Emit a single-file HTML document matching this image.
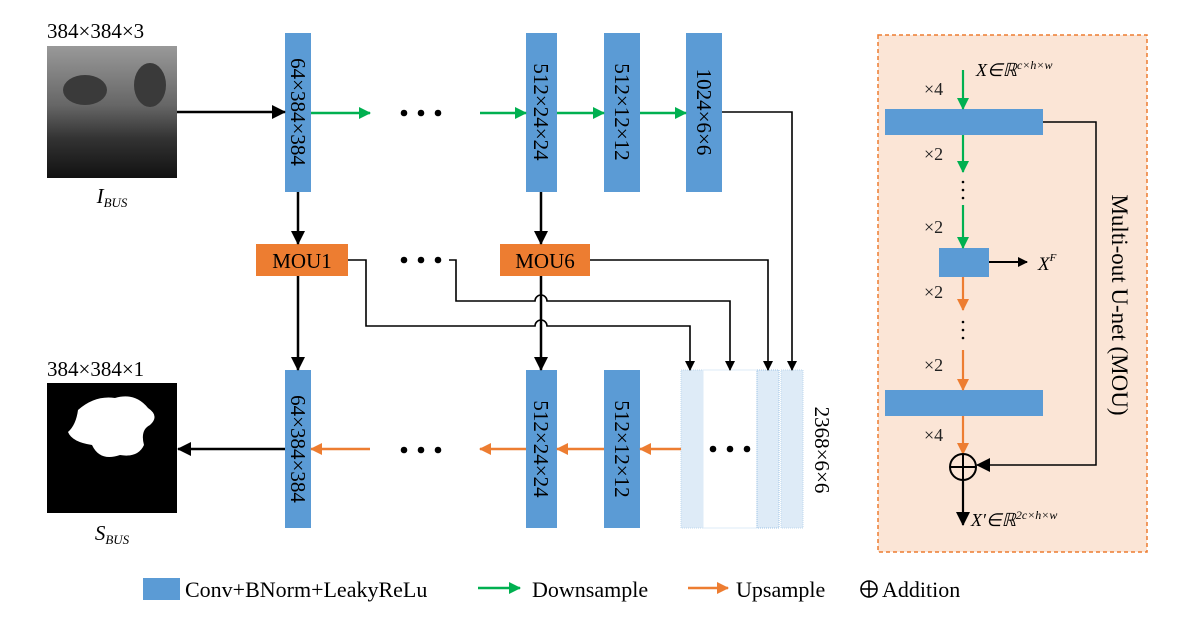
<!DOCTYPE html>
<html><head><meta charset="utf-8"><style>
html,body{margin:0;padding:0;background:#fff}
svg{display:block;font-family:"Liberation Serif",serif}
</style></head><body>
<svg width="1192" height="623" viewBox="0 0 1192 623" xmlns="http://www.w3.org/2000/svg">
<defs>
<marker id="ak" markerWidth="10" markerHeight="10" refX="9" refY="5" orient="auto" markerUnits="userSpaceOnUse"><path d="M0,0 L10,5 L0,10 z" fill="#000"/></marker>
<marker id="akb" markerWidth="14" markerHeight="14" refX="13" refY="7" orient="auto" markerUnits="userSpaceOnUse"><path d="M0,0 L14,7 L0,14 z" fill="#000"/></marker>
<marker id="ag" markerWidth="12" markerHeight="12" refX="11" refY="6" orient="auto" markerUnits="userSpaceOnUse"><path d="M0,0 L12,6 L0,12 z" fill="#00b050"/></marker>
<marker id="ao" markerWidth="12" markerHeight="12" refX="11" refY="6" orient="auto" markerUnits="userSpaceOnUse"><path d="M0,0 L12,6 L0,12 z" fill="#ed7d31"/></marker>
<linearGradient id="us" x1="0" y1="0" x2="0" y2="1"><stop offset="0" stop-color="#999"/><stop offset="0.45" stop-color="#666"/><stop offset="0.7" stop-color="#333"/><stop offset="1" stop-color="#111"/></linearGradient>
</defs>

<!-- input image -->
<text x="47" y="38" font-size="21">384×384×3</text>
<rect x="47" y="46" width="130" height="132" fill="url(#us)"/>
<ellipse cx="85" cy="90" rx="22" ry="15" fill="#3a3a3a"/><ellipse cx="150" cy="85" rx="16" ry="22" fill="#3a3a3a"/>
<text x="112" y="203" font-size="21" font-style="italic" text-anchor="middle">I<tspan font-size="13" dy="4">BUS</tspan></text>

<!-- output image -->
<text x="47" y="376" font-size="21">384×384×1</text>
<rect x="47" y="383" width="130" height="130" fill="#000"/>
<path d="M78,410 Q95,395 115,398 Q135,392 148,408 Q160,416 150,425 Q140,430 144,445 Q138,458 120,455 Q100,462 92,445 Q72,442 68,432 Q76,425 78,410 z" fill="#fff"/>
<text x="112" y="540" font-size="21" font-style="italic" text-anchor="middle">S<tspan font-size="13" dy="4">BUS</tspan></text>

<!-- top row blocks -->
<g fill="#5b9bd5">
<rect x="285" y="33" width="26" height="159"/>
<rect x="526" y="33" width="31" height="159"/>
<rect x="604" y="33" width="36" height="159"/>
<rect x="686" y="33" width="36" height="159"/>
<rect x="285" y="370" width="26" height="158"/>
<rect x="526" y="370" width="31" height="158"/>
<rect x="604" y="370" width="36" height="158"/>
</g>
<g font-size="21">
<text transform="translate(291,112) rotate(90)" text-anchor="middle">64×384×384</text>
<text transform="translate(534,112) rotate(90)" text-anchor="middle">512×24×24</text>
<text transform="translate(615,112) rotate(90)" text-anchor="middle">512×12×12</text>
<text transform="translate(697,112) rotate(90)" text-anchor="middle">1024×6×6</text>
<text transform="translate(291,449) rotate(90)" text-anchor="middle">64×384×384</text>
<text transform="translate(534,449) rotate(90)" text-anchor="middle">512×24×24</text>
<text transform="translate(615,449) rotate(90)" text-anchor="middle">512×12×12</text>
<text transform="translate(815,450) rotate(90)" text-anchor="middle">2368×6×6</text>
</g>

<!-- concat block -->
<rect x="681" y="370" width="22" height="158" fill="#deebf7" stroke="#bdd7ee" stroke-dasharray="1,1"/>
<rect x="703" y="370" width="54" height="158" fill="#fff" stroke="#deebf7"/>
<rect x="757" y="370" width="22" height="158" fill="#deebf7" stroke="#9dc3e6" stroke-dasharray="1,1"/>
<rect x="781" y="370" width="22" height="158" fill="#deebf7" stroke="#bdd7ee" stroke-dasharray="1,1"/>
<g fill="#000"><circle cx="713" cy="449" r="3.3"/><circle cx="730" cy="449" r="3.3"/><circle cx="747" cy="449" r="3.3"/></g>

<!-- MOU blocks -->
<rect x="256" y="244" width="92" height="32" fill="#ed7d31"/>
<rect x="500" y="244" width="90" height="32" fill="#ed7d31"/>
<text x="302" y="268" font-size="21" text-anchor="middle">MOU1</text>
<text x="545" y="268" font-size="21" text-anchor="middle">MOU6</text>

<!-- dots -->
<g fill="#000">
<circle cx="404" cy="113" r="3.3"/><circle cx="421" cy="113" r="3.3"/><circle cx="438" cy="113" r="3.3"/>
<circle cx="404" cy="260" r="3.3"/><circle cx="421" cy="260" r="3.3"/><circle cx="438" cy="260" r="3.3"/>
<circle cx="404" cy="450" r="3.3"/><circle cx="421" cy="450" r="3.3"/><circle cx="438" cy="450" r="3.3"/>
</g>

<!-- top arrows -->
<line x1="177" y1="112" x2="285" y2="112" stroke="#000" stroke-width="2.5" marker-end="url(#akb)"/>
<g stroke="#00b050" stroke-width="2.5">
<line x1="311" y1="113" x2="370" y2="113" marker-end="url(#ag)"/>
<line x1="480" y1="113" x2="526" y2="113" marker-end="url(#ag)"/>
<line x1="557" y1="113" x2="604" y2="113" marker-end="url(#ag)"/>
<line x1="640" y1="113" x2="686" y2="113" marker-end="url(#ag)"/>
</g>
<!-- bottom arrows -->
<g stroke="#ed7d31" stroke-width="2.5">
<line x1="681" y1="449" x2="640" y2="449" marker-end="url(#ao)"/>
<line x1="604" y1="449" x2="557" y2="449" marker-end="url(#ao)"/>
<line x1="526" y1="449" x2="480" y2="449" marker-end="url(#ao)"/>
<line x1="370" y1="449" x2="311" y2="449" marker-end="url(#ao)"/>
</g>
<line x1="285" y1="449" x2="178" y2="449" stroke="#000" stroke-width="2.5" marker-end="url(#akb)"/>

<!-- vertical thick -->
<g stroke="#000" stroke-width="2.5" fill="none">
<line x1="298" y1="192" x2="298" y2="244" marker-end="url(#akb)"/>
<line x1="541" y1="192" x2="541" y2="244" marker-end="url(#akb)"/>
<line x1="298" y1="276" x2="298" y2="370" marker-end="url(#akb)"/>
<line x1="541" y1="276" x2="541" y2="370" marker-end="url(#akb)"/>
</g>
<!-- thin connectors with hops -->
<g stroke="#000" stroke-width="1.6" fill="none">
<path d="M348,260 H366 V326 H535 a6,6 0 0 1 12,0 H690 V370" marker-end="url(#ak)"/>
<path d="M449,260 H456 V301 H535 a6,6 0 0 1 12,0 H730 V370" marker-end="url(#ak)"/>
<path d="M590,260 H768 V370" marker-end="url(#ak)"/>
<path d="M722,112 H792 V370" marker-end="url(#ak)"/>
</g>

<!-- right panel -->
<rect x="878" y="35" width="269" height="517" fill="#fbe5d6" stroke="#ed7d31" stroke-width="1.5" stroke-dasharray="4,3"/>
<g fill="#5b9bd5">
<rect x="885" y="109" width="158" height="26"/>
<rect x="939" y="248" width="50" height="29"/>
<rect x="885" y="390" width="158" height="26"/>
</g>
<g stroke-width="2.2">
<line x1="963" y1="70" x2="963" y2="109" stroke="#00b050" marker-end="url(#ag)"/>
<line x1="963" y1="135" x2="963" y2="172" stroke="#00b050" marker-end="url(#ag)"/>
<line x1="963" y1="205" x2="963" y2="248" stroke="#00b050" marker-end="url(#ag)"/>
<line x1="963" y1="277" x2="963" y2="310" stroke="#ed7d31" marker-end="url(#ao)"/>
<line x1="963" y1="350" x2="963" y2="390" stroke="#ed7d31" marker-end="url(#ao)"/>
<line x1="963" y1="416" x2="963" y2="454" stroke="#ed7d31" marker-end="url(#ao)"/>
</g>
<g fill="#000"><circle cx="963" cy="182" r="1.3"/><circle cx="963" cy="190" r="1.3"/><circle cx="963" cy="198" r="1.3"/>
<circle cx="963" cy="322" r="1.3"/><circle cx="963" cy="330" r="1.3"/><circle cx="963" cy="338" r="1.3"/></g>
<line x1="989" y1="262" x2="1027" y2="262" stroke="#000" stroke-width="2" marker-end="url(#ak)"/>
<text x="1038" y="270" font-size="19" font-style="italic">X<tspan font-size="11" dy="-9">F</tspan></text>
<path d="M1043,122 H1096 V465 H977" stroke="#000" stroke-width="1.5" fill="none" marker-end="url(#akb)"/>
<circle cx="963" cy="467" r="13" fill="none" stroke="#000" stroke-width="2"/>
<line x1="950" y1="467" x2="976" y2="467" stroke="#000" stroke-width="2"/>
<line x1="963" y1="454" x2="963" y2="480" stroke="#000" stroke-width="2"/>
<line x1="963" y1="480" x2="963" y2="525" stroke="#000" stroke-width="2.2" marker-end="url(#akb)"/>
<g font-size="18" fill="#222">
<text x="924" y="95">×4</text><text x="924" y="160">×2</text><text x="924" y="233">×2</text>
<text x="924" y="298">×2</text><text x="924" y="371">×2</text><text x="924" y="441">×4</text>
</g>
<text x="976" y="76" font-size="18" font-style="italic">X∈ℝ<tspan font-size="12" dy="-7">c×h×w</tspan></text>
<text x="971" y="526" font-size="18" font-style="italic">X′∈ℝ<tspan font-size="12" dy="-7">2c×h×w</tspan></text>
<text transform="translate(1112,305) rotate(90)" font-size="23" text-anchor="middle">Multi-out U-net (MOU)</text>

<!-- legend -->
<rect x="143" y="578" width="37" height="22" fill="#5b9bd5"/>
<text x="185" y="597" font-size="22">Conv+BNorm+LeakyReLu</text>
<line x1="478" y1="588" x2="520" y2="588" stroke="#00b050" stroke-width="2.5" marker-end="url(#ag)"/>
<text x="532" y="597" font-size="22">Downsample</text>
<line x1="688" y1="588" x2="728" y2="588" stroke="#ed7d31" stroke-width="2.5" marker-end="url(#ao)"/>
<text x="736" y="597" font-size="22">Upsample</text>
<circle cx="869" cy="589" r="8" fill="none" stroke="#000" stroke-width="1.6"/>
<line x1="861" y1="589" x2="877" y2="589" stroke="#000" stroke-width="1.6"/>
<line x1="869" y1="581" x2="869" y2="597" stroke="#000" stroke-width="1.6"/>
<text x="882" y="597" font-size="22">Addition</text>
</svg>
</body></html>
